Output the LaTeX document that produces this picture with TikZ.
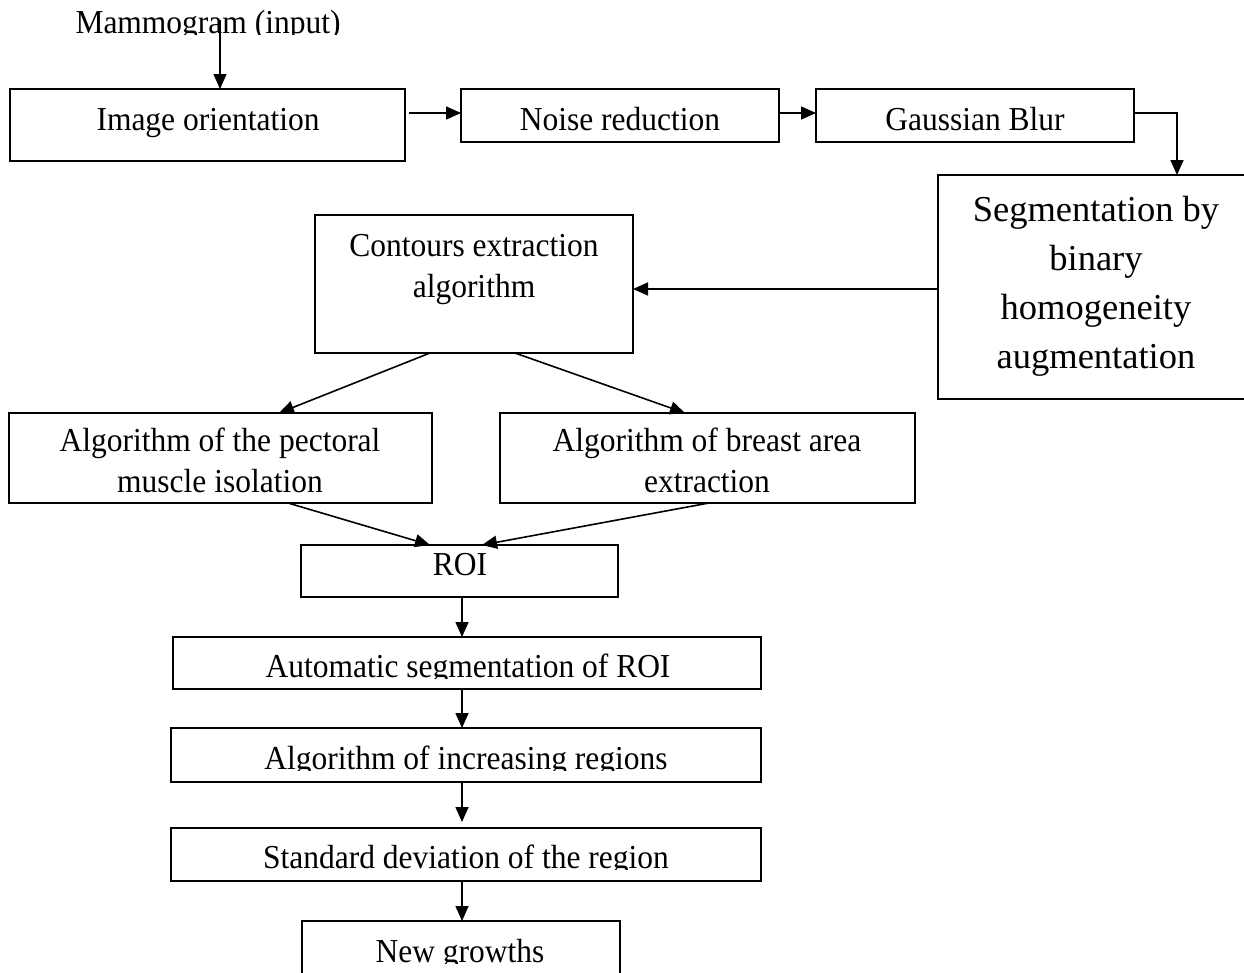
\documentclass[tikz,border=0pt]{standalone}
\usepackage{fontspec}
\setmainfont{Liberation Serif}
\newfontfamily\condserif{Liberation Serif}[FakeStretch=0.94]
\usetikzlibrary{arrows.meta}
\tikzset{
  x=1pt, y=-1pt,
  box/.style={draw=black, line width=1.6pt, inner sep=0pt, outer sep=0pt, fill=none},
  txt/.style={font=\condserif\fontsize{33.5}{41}\selectfont, inner sep=0pt, outer sep=0pt, anchor=base, align=center},
  bigtxt/.style={font=\fontsize{36.5}{49}\selectfont, inner sep=0pt, outer sep=0pt, anchor=base, align=center},
  conn/.style={line width=1.6pt, -{Triangle[length=15pt,width=13pt]}},
}
\begin{document}
\begin{tikzpicture}
\useasboundingbox[fill=white] (0,0) rectangle (1244,972);

% boxes
\node[box, minimum width=395pt, minimum height=72pt] (io) at (207.5,125) {};
\node[box, minimum width=318pt, minimum height=53pt] (nr) at (620,115.5) {};
\node[box, minimum width=318pt, minimum height=53pt] (gb) at (975,115.5) {};
\node[box, minimum width=320pt, minimum height=224pt] (seg) at (1098,287) {};
\node[box, minimum width=318pt, minimum height=138pt] (ce) at (474,284) {};
\node[box, minimum width=423pt, minimum height=90pt] (pm) at (220.5,458) {};
\node[box, minimum width=415pt, minimum height=90pt] (ba) at (707.5,458) {};
\node[box, minimum width=317pt, minimum height=52pt] (roi) at (459.5,571) {};
\node[box, minimum width=588pt, minimum height=52pt] (auto) at (467,663) {};
\node[box, minimum width=590pt, minimum height=54pt] (inc) at (466,755) {};
\node[box, minimum width=590pt, minimum height=53pt] (std) at (466,854.5) {};
\node[box, minimum width=318pt, minimum height=62pt] (ng) at (461,952) {};

% texts (anchor base = baseline of the last line)
\begin{scope}
\clip (0,0) rectangle (480,34.5);
\node[txt] (mam) at (208,33) {Mammogram (input)};
\end{scope}
\node[txt] (iot) at (208,130) {Image orientation};
\node[txt] (nrt) at (620,130) {Noise reduction};
\node[txt] (gbt) at (975,130) {Gaussian Blur};
\node[bigtxt] (segt) at (1096,368) {Segmentation by\\binary\\homogeneity\\augmentation};
\node[txt] (cet) at (474,297) {Contours extraction\\algorithm};
\begin{scope}
\clip (9,413) rectangle (915,493);
\node[txt] (pmt) at (220,492) {Algorithm of the pectoral\\muscle isolation};
\node[txt] (bat) at (707,492) {Algorithm of breast area\\extraction};
\end{scope}
\node[txt] (roit) at (460,575) {ROI};
\begin{scope}
\clip (173,637) rectangle (761,678);
\node[txt] (autot) at (468,677) {Automatic segmentation of ROI};
\end{scope}
\begin{scope}
\clip (171,728) rectangle (761,770);
\node[txt] (inct) at (466,769) {Algorithm of increasing regions};
\end{scope}
\begin{scope}
\clip (171,828) rectangle (761,869);
\node[txt] (stdt) at (466,868) {Standard deviation of the region};
\end{scope}
\begin{scope}
\clip (302,921) rectangle (620,963);
\node[txt] (ngt) at (460,962) {New growths};
\end{scope}

% connectors
\coordinate (m0) at (220,20);
\draw[conn] (m0) -- (m0 |- io.north);
\draw[conn] ([xshift=4pt]io.east |- 0,113) -- (nr.west |- 0,113);
\draw[conn] (nr.east |- 0,113) -- (gb.west |- 0,113);
\coordinate (g1) at (1177,113);
\draw[conn] (gb.east |- g1) -- (g1) -- (g1 |- seg.north);
\draw[conn] (seg.west |- 0,289) -- (ce.east |- 0,289);
\draw[conn] (ce.south -| 430,0) -- (pm.north -| 279,0);
\draw[conn] (ce.south -| 515,0) -- (ba.north -| 685,0);
\draw[conn] (pm.south -| 288,0) -- (roi.north -| 430,0);
\draw[conn] (ba.south -| 709,0) -- (roi.north -| 482,0);
\draw[conn] (roi.south -| 462,0) -- (auto.north -| 462,0);
\draw[conn] (auto.south -| 462,0) -- (inc.north -| 462,0);
\draw[conn] (inc.south -| 462,0) -- ([yshift=6pt]std.north -| 462,0);
\draw[conn] (std.south -| 462,0) -- (ng.north -| 462,0);
\end{tikzpicture}
\end{document}
